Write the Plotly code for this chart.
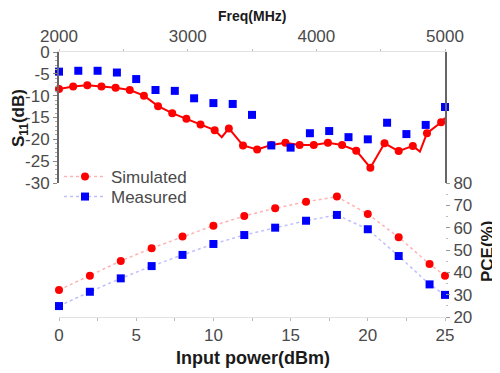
import plotly.graph_objects as go

# ---- S11 vs frequency ----
sim_freq = [2000, 2110, 2220, 2330, 2440, 2550, 2660, 2770, 2880, 2990, 3100, 3210, 3265, 3320,
            3430, 3540, 3650, 3760, 3870, 3980, 4090, 4200, 4310, 4420, 4530, 4640, 4750, 4805,
            4860, 4970, 5000]
sim_s11 = [-8.5, -7.9, -7.6, -7.9, -8.2, -8.7, -10.0, -12.4, -14.0, -15.3, -16.6, -17.9, -19.5, -17.5,
           -21.4, -22.3, -21.3, -20.8, -21.3, -21.3, -20.8, -21.3, -22.6, -26.5, -20.9, -22.7, -21.5, -22.8,
           -18.6, -16.1, -15.1]
sim_has_marker = [True, True, True, True, True, True, True, True, True, True, True, True, False, True,
                  True, True, True, True, True, True, True, True, True, True, True, True, True, False,
                  True, True, False]

meas_freq = [2000, 2150, 2300, 2450, 2600, 2750, 2900, 3050, 3200, 3350, 3500,
             3650, 3800, 3950, 4100, 4250, 4400, 4550, 4700, 4850, 5000]
meas_s11 = [-4.5, -4.3, -4.3, -4.7, -6.2, -8.7, -8.9, -10.6, -11.7, -11.9, -14.4,
            -21.4, -21.9, -18.6, -18.1, -19.5, -20.0, -16.2, -18.8, -16.7, -12.6]

# ---- PCE vs input power ----
pin = [0, 2, 4, 6, 8, 10, 12, 14, 16, 18, 20, 22, 24, 25]
pce_sim = [32.1, 38.5, 45.1, 50.8, 56.0, 60.9, 65.2, 68.7, 71.6, 73.9, 66.1, 55.7, 43.7, 38.5]
pce_meas = [24.9, 31.3, 37.3, 42.8, 47.8, 52.7, 56.7, 60.0, 63.1, 65.7, 59.3, 47.3, 34.6, 29.9]

s11_ticks = [0, -5, -10, -15, -20, -25, -30]
pce_ticks = [20, 30, 40, 50, 60, 70, 80]
pin_ticks = [0, 5, 10, 15, 20, 25]
freq_ticks = [2000, 3000, 4000, 5000]

RED = "#ff0000"
BLUE = "#0000ff"
TICKC = "#4a4a4a"
FONT = "Liberation Sans, Arial, sans-serif"

fig = go.Figure()

# S11 simulated line
fig.add_trace(go.Scatter(x=sim_freq, y=sim_s11, mode="lines", xaxis="x2", yaxis="y",
                         line=dict(color=RED, width=2), showlegend=False, cliponaxis=False))
mk_f = [f for f, m in zip(sim_freq, sim_has_marker) if m]
mk_s = [s for s, m in zip(sim_s11, sim_has_marker) if m]
fig.add_trace(go.Scatter(x=mk_f, y=mk_s, mode="markers", xaxis="x2", yaxis="y",
                         marker=dict(color=RED, size=8, symbol="circle"),
                         showlegend=False, cliponaxis=False))
# S11 measured
fig.add_trace(go.Scatter(x=meas_freq, y=meas_s11, mode="markers", xaxis="x2", yaxis="y",
                         marker=dict(color=BLUE, size=8, symbol="square"),
                         showlegend=False, cliponaxis=False))

# PCE
fig.add_trace(go.Scatter(x=pin, y=pce_sim, mode="lines+markers", xaxis="x", yaxis="y2",
                         name="Simulated", legend="legend",
                         line=dict(color="rgba(255,0,0,0.3)", width=1.5, dash="dot"),
                         marker=dict(color=RED, size=8, symbol="circle"), cliponaxis=False))
fig.add_trace(go.Scatter(x=pin, y=pce_meas, mode="lines+markers", xaxis="x", yaxis="y2",
                         name="Measured", legend="legend2",
                         line=dict(color="rgba(0,0,255,0.25)", width=1.5, dash="dot"),
                         marker=dict(color=BLUE, size=8, symbol="square"), cliponaxis=False))

# page body has an 8px margin: figure occupies (8,8)-(500,373)
OFF = 8
W, H = 500 - OFF, 373 - OFF
top_px, bot_px, left_px, right_px, mid_px = 52, 317, 59, 445, 183
pw, ph = right_px - left_px, bot_px - top_px
split = (bot_px - mid_px) / ph
tickfont = dict(family=FONT, size=17, color=TICKC)
titlefont = dict(family=FONT, size=17, color="#1a1a1a", weight="bold")
legfont = dict(family=FONT, size=17, color=TICKC)


def px_x(x):
    return (x - left_px) / pw


def px_y(y):
    return 1 - (y - top_px) / ph


fig.update_layout(
    width=W, height=H,
    margin=dict(l=left_px - OFF, r=500 - right_px, t=top_px - OFF, b=373 - bot_px, pad=0),
    paper_bgcolor="white", plot_bgcolor="white",
    font=dict(family=FONT, size=17, color=TICKC),
    xaxis=dict(domain=[0, 1], range=[0, 25], anchor="y2", side="bottom", automargin=False,
               tickvals=pin_ticks, ticktext=[str(t) for t in pin_ticks],
               showgrid=False, zeroline=False, showline=True, linecolor="#e2e2e2", linewidth=1,
               ticks="outside", ticklen=3, tickcolor="#bbbbbb",
               minor=dict(dtick=2.5, ticks="outside", ticklen=3, tickcolor="#bbbbbb"),
               tickfont=tickfont),
    xaxis2=dict(domain=[0, 1], range=[2000, 5000], anchor="y", side="top", automargin=False,
                tickvals=freq_ticks, ticktext=[str(t) for t in freq_ticks],
                showgrid=False, zeroline=False, showline=True, linecolor="#e2e2e2", linewidth=1,
                ticks="outside", ticklen=2, tickcolor="#bbbbbb",
                minor=dict(dtick=500, ticks="outside", ticklen=2, tickcolor="#bbbbbb"),
                tickfont=tickfont),
    yaxis=dict(domain=[split, 1], range=[-30, 0], anchor="x2", side="left", automargin=False,
               tickvals=s11_ticks, ticktext=[str(t) for t in s11_ticks],
               showgrid=False, zeroline=False, showline=True, mirror=True,
               linecolor="#666666", linewidth=2,
               ticks="outside", ticklen=4, tickcolor="#888888",
               minor=dict(dtick=1, ticks="outside", ticklen=2, tickcolor="#aaaaaa"),
               tickfont=tickfont),
    yaxis2=dict(domain=[0, split], range=[20, 80], anchor="x", side="right", automargin=False,
                tickvals=pce_ticks, ticktext=[str(t) for t in pce_ticks],
                showgrid=False, zeroline=False, showline=False,
                ticks="outside", ticklen=4, tickcolor="#999999",
                minor=dict(dtick=5, ticks="outside", ticklen=2, tickcolor="#bbbbbb"),
                tickfont=tickfont),
    legend=dict(x=0.0, y=px_y(177), xanchor="left", yanchor="middle",
                bgcolor="rgba(0,0,0,0)", font=legfont, itemwidth=42),
    legend2=dict(x=0.0, y=px_y(197), xanchor="left", yanchor="middle",
                 bgcolor="rgba(0,0,0,0)", font=legfont, itemwidth=42),
    annotations=[
        dict(text="Freq(MHz)", xref="paper", yref="paper", x=px_x(252), y=px_y(16),
             xanchor="center", yanchor="middle", showarrow=False,
             font=dict(family=FONT, size=14, color="#1a1a1a", weight="bold")),
        dict(text="Input power(dBm)", xref="paper", yref="paper", x=px_x(253), y=px_y(358),
             xanchor="center", yanchor="middle", showarrow=False,
             font=dict(family=FONT, size=18, color="#1a1a1a", weight="bold")),
        dict(text="S<sub>11</sub>(dB)", xref="paper", yref="paper", x=px_x(20), y=px_y(118),
             xanchor="center", yanchor="middle", showarrow=False, textangle=-90,
             font=titlefont),
        dict(text="PCE(%)", xref="paper", yref="paper", x=px_x(487), y=px_y(252),
             xanchor="center", yanchor="middle", showarrow=False, textangle=-90,
             font=titlefont),
    ],
)

fig.write_html("out.html")
